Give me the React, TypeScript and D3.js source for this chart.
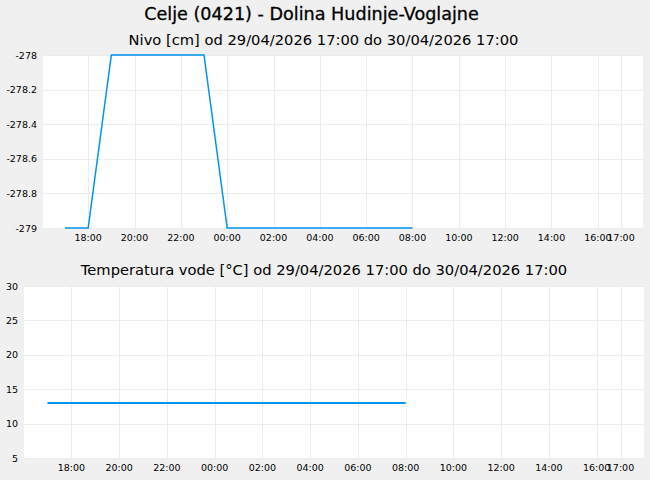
import React from "react";
import * as d3 from "d3";

const levelTimes = [
  "2026-04-29T17:00Z", "2026-04-29T18:00Z", "2026-04-29T19:00Z", "2026-04-29T20:00Z",
  "2026-04-29T21:00Z", "2026-04-29T22:00Z", "2026-04-29T23:00Z", "2026-04-30T00:00Z",
  "2026-04-30T01:00Z", "2026-04-30T02:00Z", "2026-04-30T03:00Z", "2026-04-30T04:00Z",
  "2026-04-30T05:00Z", "2026-04-30T06:00Z", "2026-04-30T07:00Z", "2026-04-30T08:00Z",
];
const levelValues = [-279, -279, -278, -278, -278, -278, -278, -279, -279, -279, -279, -279, -279, -279, -279, -279];

const tempTimes = levelTimes;
const tempValues = [13, 13, 13, 13, 13, 13, 13, 13, 13, 13, 13, 13, 13, 13, 13, 13];

const levelTicks = [-279, -278.8, -278.6, -278.4, -278.2, -278];
const levelTickLabels = ["-279", "-278.8", "-278.6", "-278.4", "-278.2", "-278"];
const tempTicks = [5, 10, 15, 20, 25, 30];

const xTickTimes = [
  "2026-04-29T18:00Z", "2026-04-29T20:00Z", "2026-04-29T22:00Z", "2026-04-30T00:00Z",
  "2026-04-30T02:00Z", "2026-04-30T04:00Z", "2026-04-30T06:00Z", "2026-04-30T08:00Z",
  "2026-04-30T10:00Z", "2026-04-30T12:00Z", "2026-04-30T14:00Z", "2026-04-30T16:00Z",
  "2026-04-30T17:00Z",
];

const rangeStart = "2026-04-29T17:00Z";
const rangeEnd = "2026-04-30T17:00Z";

const title = "Celje (0421) - Dolina Hudinje-Voglajne";
const levelTitle = "Nivo [cm] od 29/04/2026 17:00 do 30/04/2026 17:00";
const tempTitle = "Temperatura vode [°C] od 29/04/2026 17:00 do 30/04/2026 17:00";

const LINE = "#0093f0";
const GRID = "#ececec";
const FONT = "DejaVu Sans";

type PanelProps = {
  x0: number; x1: number; y0: number; y1: number;
  padMin: number;
  times: string[]; values: number[];
  yDomain: [number, number];
  yTicks: number[]; yLabels: string[];
  yLabelX: number;
  lineWidth: number;
  xLabelY: number;
};

function Panel(p: PanelProps) {
  const pad = p.padMin * 60 * 1000;
  const x = d3.scaleUtc()
    .domain([new Date(+new Date(rangeStart) - pad), new Date(+new Date(rangeEnd) + pad)])
    .range([p.x0, p.x1]);
  const y = d3.scaleLinear().domain(p.yDomain).range([p.y1, p.y0]);
  const fmt = d3.utcFormat("%H:%M");
  const pts = p.times.map((t, i) => [x(new Date(t)), y(p.values[i])] as [number, number]);
  const line = d3.line();
  return (
    <g>
      <rect x={p.x0} y={p.y0} width={p.x1 - p.x0} height={p.y1 - p.y0} fill="#ffffff" />
      {p.yTicks.map((v) => (
        <line key={"h" + v} x1={p.x0} x2={p.x1} y1={Math.round(y(v)) + 0.5} y2={Math.round(y(v)) + 0.5} stroke={GRID} strokeWidth={1} />
      ))}
      {xTickTimes.map((t) => {
        const xx = Math.round(x(new Date(t))) + 0.5;
        return <line key={"v" + t} x1={xx} x2={xx} y1={p.y0} y2={p.y1} stroke={GRID} strokeWidth={1} />;
      })}
      <path d={line(pts) || ""} fill="none" stroke={LINE} strokeWidth={p.lineWidth} strokeLinejoin="miter" />
      {p.yTicks.map((v, i) => (
        <text key={"yl" + v} x={p.yLabelX} y={y(v) + 3.5} textAnchor="end" fontFamily={FONT} fontSize={9.5} fill="#000">
          {p.yLabels[i]}
        </text>
      ))}
      {xTickTimes.map((t) => (
        <text key={"xl" + t} x={x(new Date(t))} y={p.xLabelY} textAnchor="middle" fontFamily={FONT} fontSize={9.5} fill="#000">
          {fmt(new Date(t))}
        </text>
      ))}
    </g>
  );
}

export default function App() {
  return (
    <svg width={650} height={480} style={{ position: "absolute", left: 0, top: 0 }}>
      <rect x={0} y={0} width={650} height={480} fill="#f0f0f0" />
      <text x={311.5} y={20} textAnchor="middle" fontFamily={FONT} fontSize={17.6} fill="#000" stroke="#000" strokeWidth={0.3}>
        {title}
      </text>
      <text x={323.5} y={45} textAnchor="middle" fontFamily={FONT} fontSize={14.7} fill="#000">
        {levelTitle}
      </text>
      <Panel x0={43} x1={643} y0={55} y1={228} padMin={57}
        times={levelTimes} values={levelValues} yDomain={[-279, -278]}
        yTicks={levelTicks} yLabels={levelTickLabels} yLabelX={37}
        lineWidth={1.5} xLabelY={241} />
      <text x={324} y={275} textAnchor="middle" fontFamily={FONT} fontSize={14.7} fill="#000">
        {tempTitle}
      </text>
      <Panel x0={24} x1={644} y0={286} y1={458} padMin={59}
        times={tempTimes} values={tempValues} yDomain={[5, 30]}
        yTicks={tempTicks} yLabels={tempTicks.map(String)} yLabelX={18}
        lineWidth={2} xLabelY={471} />
    </svg>
  );
}
